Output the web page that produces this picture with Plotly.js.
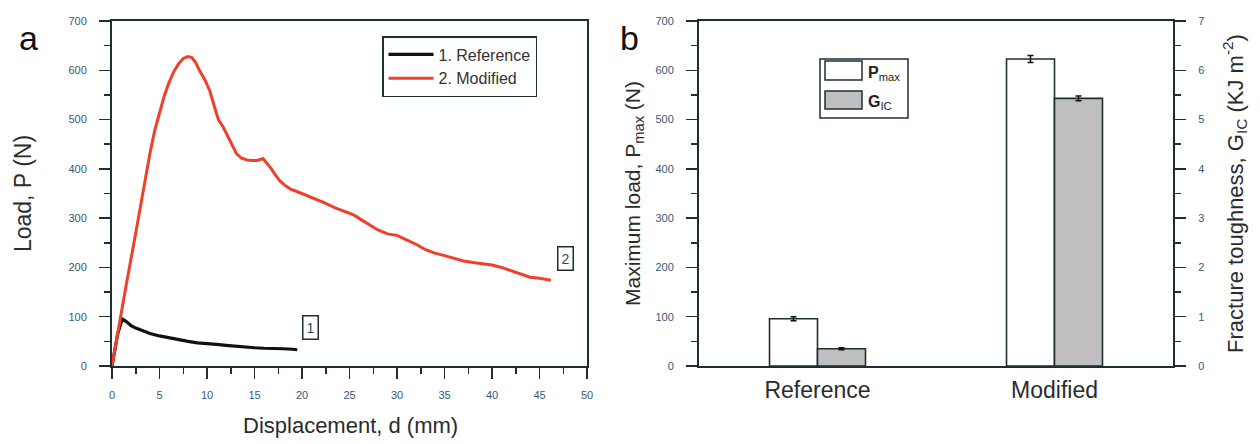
<!DOCTYPE html>
<html>
<head>
<meta charset="utf-8">
<script src="https://cdn.plot.ly/plotly-3.0.1.min.js"></script>
<style>html,body{margin:0;padding:0;background:#fff;}#chart{width:1260px;height:444px;}</style>
</head>
<body>
<div id="chart"></div>
<script>
// ---- Panel a: load vs displacement ----
const refDisp = [0,0.3,0.6,0.9,1.1,1.5,2.0,2.5,3.0,4.0,5.0,6.0,7.0,8.0,9.0,10.0,11.0,12.0,13.0,14.0,15.0,16.0,17.0,18.0,19.0,19.5];
const refLoad = [0,30,65,85,95,90,82,77,73,66,61,57,53,50,47,46,44,42,40,38,37,36,36,35,34,33];
const modDisp = [0,0.8,1.5,2.5,3.3,4.0,4.5,5.0,5.5,6.0,6.5,7.0,7.5,8.0,8.4,8.8,9.2,9.8,10.3,10.8,11.2,11.7,12.2,12.7,13.1,13.6,14.2,14.8,15.3,15.9,16.3,16.7,17.2,17.7,18.3,18.8,19.6,20.5,21.5,22.5,23.5,24.5,25.5,26.3,27.2,28.0,29.0,30.0,31.0,32.0,33.0,34.0,35.0,36.0,37.0,38.0,39.0,40.0,41.0,42.0,43.0,44.0,45.0,46.2];
const modLoad = [0,90,165,270,360,432,478,515,548,575,597,613,624,628,626,616,600,580,558,525,500,485,465,445,431,422,418,417,417,421,412,402,388,375,365,359,353,346,338,330,321,314,306,296,285,276,268,265,256,247,236,229,224,218,213,210,207,205,200,193,186,180,178,174];
const seriesNames = ['1. Reference', '2. Modified'];
const curveLabels = ['1', '2'];
const curveLabelPos = [[20.9, 79], [47.7, 219]];

// ---- Panel b: bars ----
const samples = ['Reference', 'Modified'];
const pmax = [96, 623];
const pmaxErr = [4, 7];
const gic = [0.35, 5.43];
const gicErr = [0.02, 0.05];

const axisCol = '#1f2d36';
const tickCol = '#35597a';
const titleCol = '#2b2b2b';
const FONT = 'Liberation Sans, Arial, sans-serif';

const traces = [
  {x: refDisp, y: refLoad, name: seriesNames[0], type: 'scatter', mode: 'lines',
   line: {color: '#111111', width: 3.2}, xaxis: 'x', yaxis: 'y', legend: 'legend'},
  {x: modDisp, y: modLoad, name: seriesNames[1], type: 'scatter', mode: 'lines',
   line: {color: '#f0402a', width: 3}, xaxis: 'x', yaxis: 'y', legend: 'legend'},
  {x: samples, y: pmax, name: 'P<sub>max</sub>', type: 'bar', xaxis: 'x2', yaxis: 'y3', offsetgroup: '1',
   marker: {color: '#ffffff', line: {color: axisCol, width: 1.6}},
   error_y: {type: 'data', array: pmaxErr, visible: true, color: '#111', thickness: 1.5, width: 3},
   showlegend: false},
  {x: samples, y: gic, name: 'G<sub>IC</sub>', type: 'bar', xaxis: 'x2', yaxis: 'y4', offsetgroup: '2',
   marker: {color: '#bfbfbf', line: {color: axisCol, width: 1.6}},
   error_y: {type: 'data', array: gicErr, visible: true, color: '#111', thickness: 1.5, width: 3},
   showlegend: false}
];

function yax(extra) {
  return Object.assign({
    showline: true, linecolor: axisCol, linewidth: 2, ticks: 'outside', ticklen: 11, tickwidth: 1.5,
    tickcolor: axisCol, showgrid: false, zeroline: false,
    tickfont: {family: FONT, size: 11, color: tickCol}, ticklabelstandoff: 10
  }, extra);
}

const layout = {
  width: 1260, height: 444,
  margin: {l: 0, r: 0, t: 0, b: 0},
  paper_bgcolor: '#ffffff', plot_bgcolor: '#ffffff',
  font: {family: FONT, color: titleCol},
  barmode: 'group', bargap: 0.595, bargroupgap: 0,
  xaxis: yax({domain: [112/1260, 587/1260], anchor: 'y', range: [0, 50], dtick: 5, mirror: true,
    ticklabelstandoff: 7,
    minor: {dtick: 2.5, ticks: 'outside', ticklen: 6, tickwidth: 1.5, tickcolor: axisCol}}),
  yaxis: yax({domain: [1-366/444, 1-21/444], anchor: 'x', range: [0, 700], dtick: 100, mirror: true,
    minor: {dtick: 50, ticks: 'outside', ticklen: 6, tickwidth: 1.5, tickcolor: axisCol},
    title: {text: 'Load, P (N)', font: {family: FONT, size: 23, color: titleCol}, standoff: 30}}),
  xaxis2: {domain: [699/1260, 1173/1260], anchor: 'y3', type: 'category', range: [-0.5, 1.5],
    showline: true, linecolor: axisCol, linewidth: 2, mirror: true, ticks: '', showgrid: false,
    tickfont: {family: FONT, size: 23, color: titleCol}, ticklabelstandoff: 2},
  yaxis3: yax({domain: [1-366/444, 1-21/444], anchor: 'x2', range: [0, 700], dtick: 100,
    minor: {dtick: 50, ticks: 'outside', ticklen: 6, tickwidth: 1.5, tickcolor: axisCol},
    title: {text: 'Maximum load, P<sub>max</sub> (N)', font: {family: FONT, size: 21, color: titleCol}, standoff: 9}}),
  yaxis4: yax({domain: [1-366/444, 1-21/444], anchor: 'x2', overlaying: 'y3', side: 'right', range: [0, 7], dtick: 1,
    minor: {dtick: 0.5, ticks: 'outside', ticklen: 6, tickwidth: 1.5, tickcolor: axisCol},
    title: {text: 'Fracture toughness, G<sub>IC</sub> (KJ m<sup>-2</sup>)', font: {family: FONT, size: 22, color: titleCol}, standoff: 24}}),
  legend: {x: 382/1260, y: 1-36/444, xanchor: 'left', yanchor: 'top', bgcolor: '#ffffff',
    bordercolor: axisCol, borderwidth: 1.5, itemwidth: 45, tracegroupgap: 0,
    font: {family: FONT, size: 16, color: '#333333'}},
  shapes: [
    {type: 'rect', xref: 'paper', yref: 'paper', x0: 820/1260, x1: 908/1260, y0: 1-118/444, y1: 1-59/444,
     line: {color: axisCol, width: 1.5}, fillcolor: 'rgba(0,0,0,0)'},
    {type: 'rect', xref: 'paper', yref: 'paper', x0: 825/1260, x1: 862/1260, y0: 1-80/444, y1: 1-61/444,
     line: {color: axisCol, width: 1.5}, fillcolor: '#ffffff'},
    {type: 'rect', xref: 'paper', yref: 'paper', x0: 825/1260, x1: 862/1260, y0: 1-109/444, y1: 1-91/444,
     line: {color: axisCol, width: 1.5}, fillcolor: '#bfbfbf'}
  ],
  annotations: [
    {text: 'Displacement, d (mm)', xref: 'paper', yref: 'paper', x: 350/1260, y: 1-425/444,
     xanchor: 'center', yanchor: 'middle', showarrow: false,
     font: {family: FONT, size: 22, color: titleCol}},
    {text: 'a', xref: 'paper', yref: 'paper', x: 28/1260, y: 1-38/444, xanchor: 'center', yanchor: 'middle', showarrow: false,
     font: {family: FONT, size: 34, color: '#111'}},
    {text: 'b', xref: 'paper', yref: 'paper', x: 629/1260, y: 1-38/444, xanchor: 'center', yanchor: 'middle', showarrow: false,
     font: {family: FONT, size: 34, color: '#111'}},
    {text: curveLabels[0], xref: 'x', yref: 'y', x: curveLabelPos[0][0], y: curveLabelPos[0][1], showarrow: false,
     bordercolor: axisCol, borderwidth: 1.5, borderpad: 3, bgcolor: '#fff', font: {family: FONT, size: 14, color: '#2b4a6a'}},
    {text: curveLabels[1], xref: 'x', yref: 'y', x: curveLabelPos[1][0], y: curveLabelPos[1][1], showarrow: false,
     bordercolor: axisCol, borderwidth: 1.5, borderpad: 3, bgcolor: '#fff', font: {family: FONT, size: 14, color: '#2b4a6a'}},
    {text: '<b>P</b><sub>max</sub>', xref: 'paper', yref: 'paper', x: 866/1260, y: 1-73/444, xanchor: 'left', yanchor: 'middle', showarrow: false,
     font: {family: FONT, size: 16, color: '#222'}},
    {text: '<b>G</b><sub>IC</sub>', xref: 'paper', yref: 'paper', x: 866/1260, y: 1-103/444, xanchor: 'left', yanchor: 'middle', showarrow: false,
     font: {family: FONT, size: 16, color: '#222'}}
  ]
};

Plotly.newPlot('chart', traces, layout, {staticPlot: true, displayModeBar: false});
</script>
</body>
</html>
